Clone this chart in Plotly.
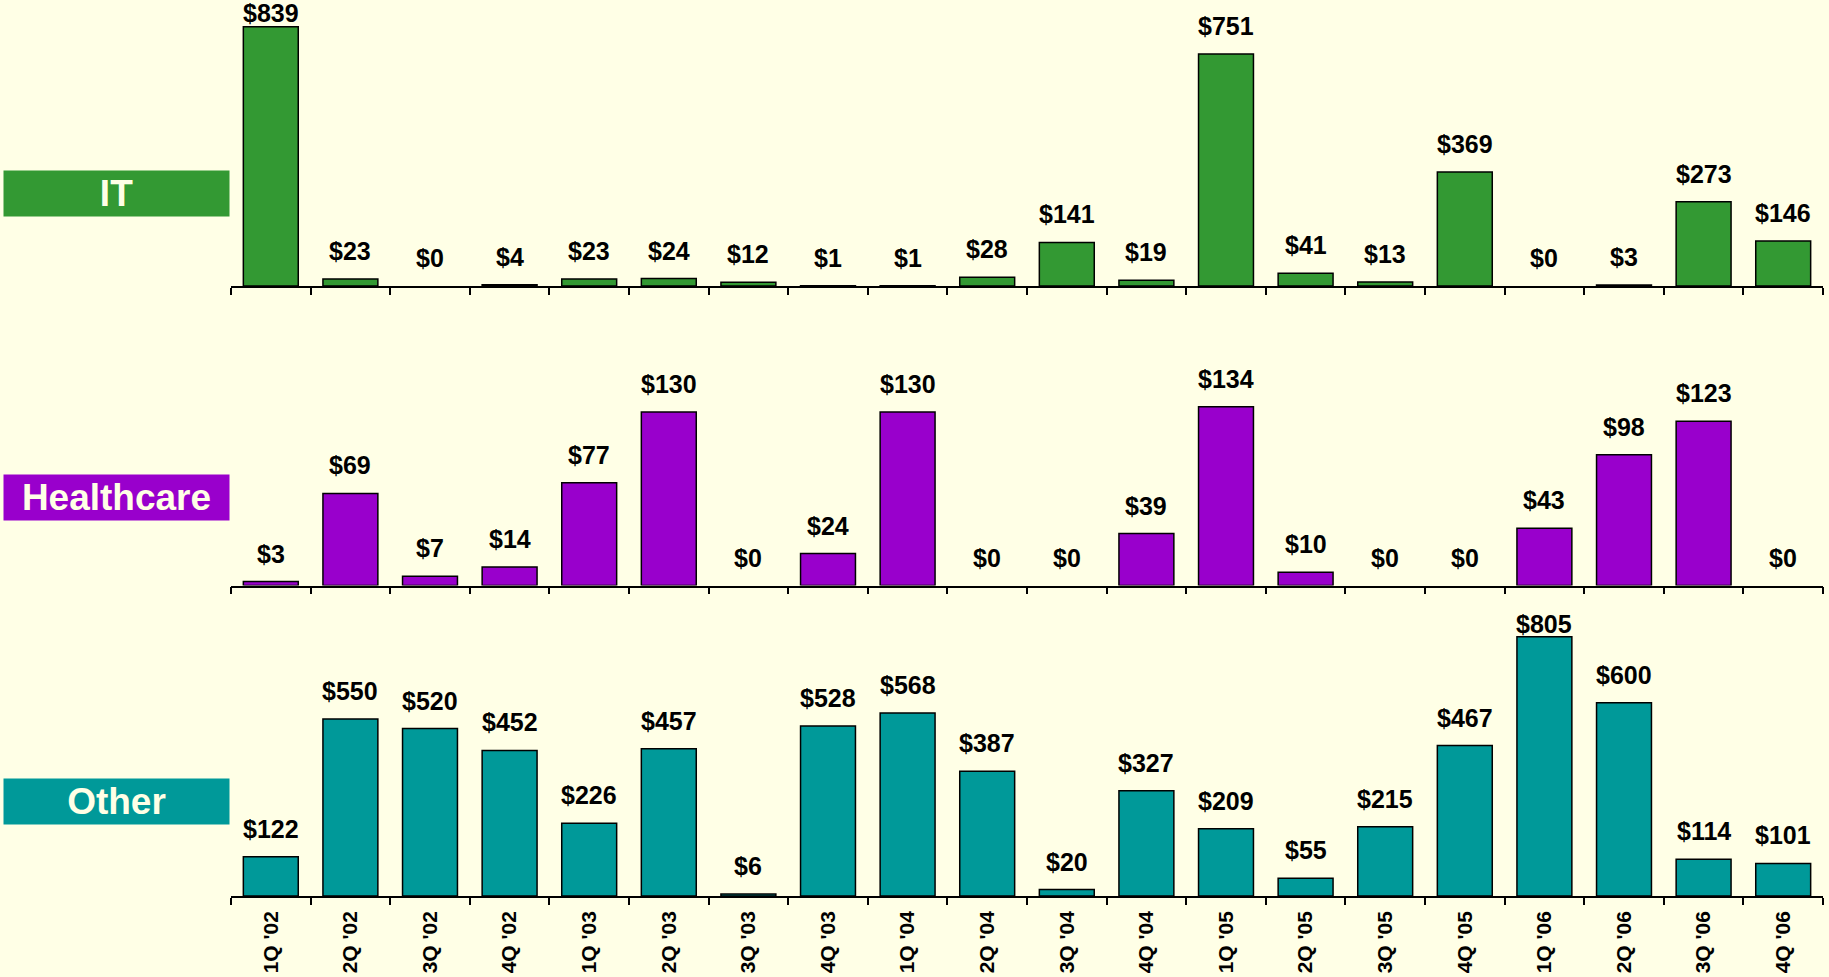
import plotly.graph_objects as go

quarters = ["1Q '02", "2Q '02", "3Q '02", "4Q '02", "1Q '03", "2Q '03", "3Q '03", "4Q '03",
            "1Q '04", "2Q '04", "3Q '04", "4Q '04", "1Q '05", "2Q '05", "3Q '05", "4Q '05",
            "1Q '06", "2Q '06", "3Q '06", "4Q '06"]
it_values = [839, 23, 0, 4, 23, 24, 12, 1, 1, 28, 141, 19, 751, 41, 13, 369, 0, 3, 273, 146]
healthcare_values = [3, 69, 7, 14, 77, 130, 0, 24, 130, 0, 0, 39, 134, 10, 0, 0, 43, 98, 123, 0]
other_values = [122, 550, 520, 452, 226, 457, 6, 528, 568, 387, 20, 327, 209, 55, 215, 467, 805, 600, 114, 101]

BG = "#FFFFE6"
FONT = "Liberation Sans, Arial, sans-serif"
W, H = 1829, 977
ML, MR, MT, MB = 231, 6, 0, 81
PH = H - MT - MB  # plot height in px

# panel: name, values, colour, domain (px from top: top, bottom), y range top, box centre y px
panels = [
    dict(name="IT", values=it_values, color="#339933", top=0, bottom=286, rtop=925.6, box=193.5),
    dict(name="Healthcare", values=healthcare_values, color="#9900CC", top=300, bottom=585.6, rtop=213.9, box=497.5),
    dict(name="Other", values=other_values, color="#009999", top=611, bottom=896, rtop=885.0, box=801.5),
]

fig = go.Figure()
annotations = []
GAP = 12
LBL_H = 29

for i, p in enumerate(panels):
    idx = 3 - i  # IT -> 3, HC -> 2, Other -> 1
    xa = "x" if idx == 1 else f"x{idx}"
    ya = "y" if idx == 1 else f"y{idx}"
    fig.add_trace(go.Bar(
        x=quarters, y=p["values"], xaxis=xa, yaxis=ya,
        marker=dict(color=p["color"],
                    line=dict(color="black", width=[1.5 if v > 0 else 0 for v in p["values"]])),
        showlegend=False, hoverinfo="x+y",
    ))
    d0 = (PH - p["bottom"]) / PH
    d1 = (PH - p["top"]) / PH
    ppu = (p["bottom"] - p["top"]) / p["rtop"]
    fig.layout[("yaxis" if idx == 1 else f"yaxis{idx}")] = dict(
        domain=[d0, d1], range=[0, p["rtop"]], visible=False, fixedrange=True)
    xcfg = dict(
        domain=[0, 1], anchor=ya, type="category", range=[-0.5, len(quarters) - 0.5],
        showline=True, linecolor="black", linewidth=1.5, ticks="outside", tickson="boundaries",
        ticklen=7, tickwidth=1.5, tickcolor="black", showgrid=False, zeroline=False,
        fixedrange=True,
    )
    if idx == 1:
        xcfg.update(showticklabels=True, tickangle=-90, ticklabelstandoff=5,
                    tickfont=dict(family=FONT, size=21, color="black", weight="bold"))
    else:
        xcfg.update(showticklabels=False, matches="x")
    fig.layout[("xaxis" if idx == 1 else f"xaxis{idx}")] = xcfg

    for q, v in zip(quarters, p["values"]):
        avail = (p["rtop"] - v) * ppu
        shift = min(GAP, avail - LBL_H)
        annotations.append(dict(
            x=q, y=v, xref=xa, yref=ya, text=f"${v}", showarrow=False,
            yanchor="bottom", xanchor="center", yshift=shift,
            font=dict(family=FONT, size=25, color="black", weight="bold"),
        ))
    # category label box on the left
    annotations.append(dict(
        xref="paper", yref="paper", x=(116.5 - ML) / (W - ML - MR), y=(PH - p["box"]) / PH,
        xanchor="center", yanchor="middle", text=p["name"], showarrow=False,
        width=225, height=45, bgcolor=p["color"], borderpad=0,
        font=dict(family=FONT, size=37, color="#FFFFE6", weight="bold"),
    ))

fig.update_layout(
    width=W, height=H, autosize=False,
    margin=dict(l=ML, r=MR, t=MT, b=MB, pad=0),
    paper_bgcolor=BG, plot_bgcolor=BG,
    bargap=0.31,
    annotations=annotations,
    font=dict(family=FONT),
)

fig.write_html("out.html", config={"displayModeBar": False},
               post_script="document.body.style.margin='0';document.body.style.overflow='hidden';")
